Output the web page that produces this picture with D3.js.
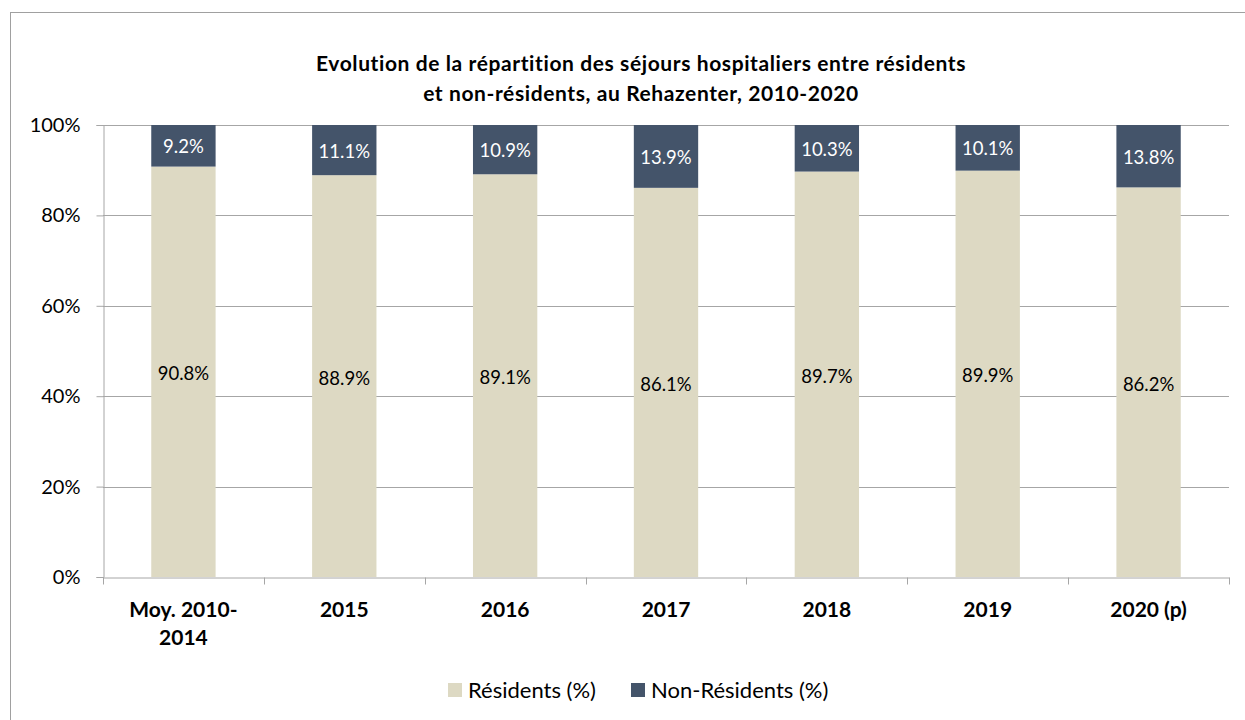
<!DOCTYPE html>
<html><head><meta charset="utf-8">
<script src="https://cdn.jsdelivr.net/npm/d3@7"></script>
<style>body{margin:0;background:#fff}svg{display:block}text{font-family:Lato,"Open Sans",sans-serif;fill:#000}</style>
</head><body>
<script>
const categories = ["Moy. 2010-2014","2015","2016","2017","2018","2019","2020 (p)"];
const categoryLines = [["Moy. 2010-","2014"],["2015"],["2016"],["2017"],["2018"],["2019"],["2020 (p)"]];
const residents = [90.8, 88.9, 89.1, 86.1, 89.7, 89.9, 86.2];
const nonResidents = [9.2, 11.1, 10.9, 13.9, 10.3, 10.1, 13.8];
const seriesNames = ["Résidents (%)", "Non-Résidents (%)"];
const yTicks = [0, 20, 40, 60, 80, 100];
const titleLines = ["Evolution de la répartition des séjours hospitaliers entre résidents","et non-résidents, au Rehazenter, 2010-2020"];
const colors = ["#DDD9C3", "#44546A"];

(function(){
const W = 1245, H = 720;
const svg = d3.select("body").append("svg").attr("width", W).attr("height", H);
svg.append("rect").attr("x",10.5).attr("y",12.5).attr("width",1260).attr("height",760)
  .attr("fill","none").attr("stroke","#a0a0a0").attr("stroke-width",1);

const pL = 103, pR = 1229, pT = 125, pB = 577;
const x = d3.scaleBand().domain(categories).range([pL, pR]).paddingInner(0.6).paddingOuter(0.3);
const y = d3.scaleLinear().domain([0, 100]).range([pB, pT]);

// title
svg.append("g").selectAll("text").data(titleLines).join("text")
  .attr("x", 641).attr("y", (d,i) => 71 + i*30).attr("text-anchor","middle")
  .attr("font-weight","bold").attr("font-size","21px").attr("letter-spacing","0.6px").text(d => d);

// gridlines
svg.append("g").selectAll("line").data(yTicks.filter(t => t>0)).join("line")
  .attr("x1", pL).attr("x2", pR).attr("y1", d => Math.round(y(d))+0.5).attr("y2", d => Math.round(y(d))+0.5)
  .attr("stroke","#a6a6a6").attr("stroke-width",1);

// y axis
const yAxis = d3.axisLeft(y).tickValues(yTicks).tickFormat(d => d + "%").tickSize(7).tickPadding(16);
const gy = svg.append("g").attr("transform", `translate(${pL+0.5},0)`).call(yAxis);
gy.selectAll("path,line").attr("stroke","#a6a6a6");
gy.selectAll("text").attr("font-size","20px").attr("font-family","Lato, sans-serif").attr("fill","#000");

// x axis
const xAxis = d3.axisBottom(x).tickSize(0).tickFormat("");
const gx = svg.append("g").attr("transform", `translate(0,${pB+0.5})`).call(xAxis);
gx.select("path").attr("stroke","#a6a6a6");
const bounds = d3.range(categories.length + 1).map(i => pL + i * (pR-pL)/categories.length);
gx.selectAll("line.sep").data(bounds).join("line").attr("class","sep")
  .attr("x1", d => Math.round(d)+0.5).attr("x2", d => Math.round(d)+0.5).attr("y1",0).attr("y2",7).attr("stroke","#a6a6a6");

// category labels
const cl = svg.append("g").selectAll("text").data(categories).join("text")
  .attr("x", d => x(d) + x.bandwidth()/2).attr("y", 617).attr("text-anchor","middle")
  .attr("font-weight","bold").attr("font-size","21px");
cl.each(function(d,i){
  d3.select(this).selectAll("tspan").data(categoryLines[i]).join("tspan")
    .attr("x", x(d) + x.bandwidth()/2).attr("dy", (t,j) => j === 0 ? 0 : 28).text(t => t);
});

// stacked bars
const rows = categories.map((c,i) => ({cat:c, r:residents[i], n:nonResidents[i]}));
const g = svg.append("g");
g.selectAll("rect.res").data(rows).join("rect").attr("class","res")
  .attr("x", d => x(d.cat)).attr("width", x.bandwidth())
  .attr("y", d => y(d.r)).attr("height", d => y(0) - y(d.r)).attr("fill", colors[0]);
g.selectAll("rect.non").data(rows).join("rect").attr("class","non")
  .attr("x", d => x(d.cat)).attr("width", x.bandwidth())
  .attr("y", d => y(d.r + d.n)).attr("height", d => y(d.r) - y(d.r + d.n)).attr("fill", colors[1]);

// labels
g.selectAll("text.rl").data(rows).join("text").attr("class","rl")
  .attr("x", d => x(d.cat) + x.bandwidth()/2).attr("y", d => (y(0)+y(d.r))/2 + 2).attr("dy","0.35em")
  .attr("text-anchor","middle").attr("font-size","18.5px").text(d => d.r.toFixed(1) + "%");
g.selectAll("text.nl").data(rows).join("text").attr("class","nl")
  .attr("x", d => x(d.cat) + x.bandwidth()/2).attr("y", d => (y(d.r)+y(d.r+d.n))/2 + 1).attr("dy","0.35em")
  .attr("text-anchor","middle").attr("font-size","18.5px").style("fill","#fff").text(d => d.n.toFixed(1) + "%");

// legend
const legX = [448, 631];
const lg = svg.append("g").selectAll("g").data(seriesNames).join("g")
  .attr("transform", (d,i) => `translate(${legX[i]},683)`);
lg.append("rect").attr("width",14).attr("height",14).attr("fill",(d,i)=>colors[i]);
lg.append("text").attr("x",20).attr("y",7).attr("dy","0.35em").attr("font-size","22px").text(d=>d);
})();
</script>
</body></html>
